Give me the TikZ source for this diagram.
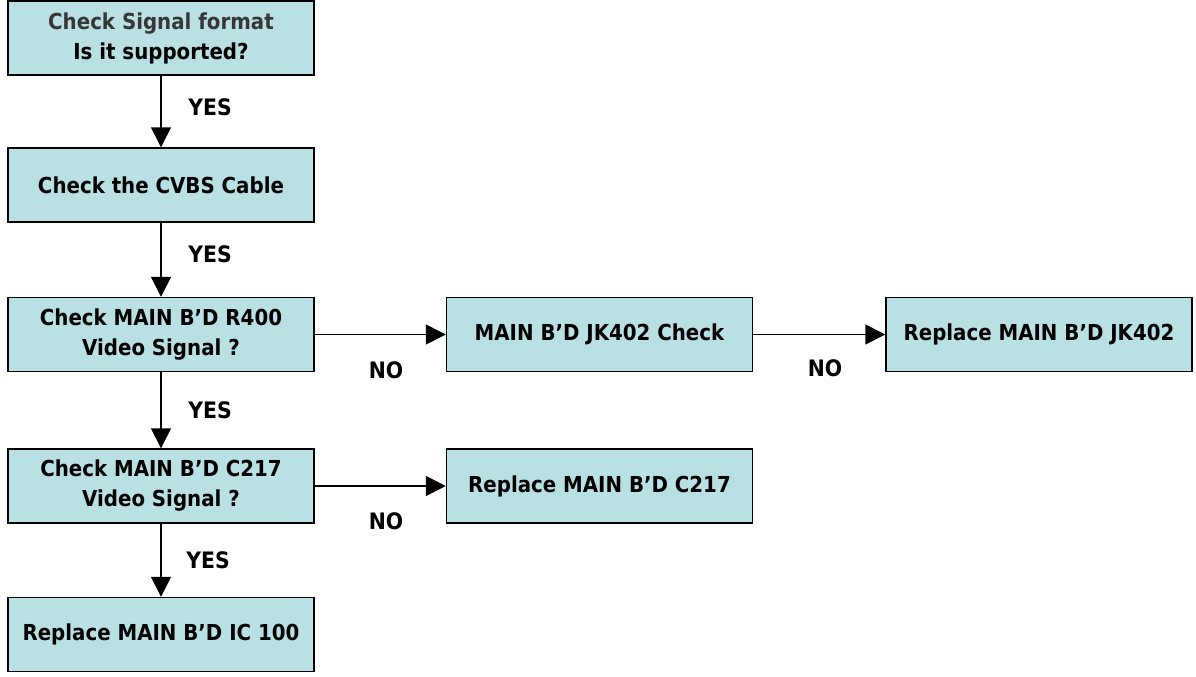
\documentclass[tikz,border=0pt]{standalone}
\usepackage{fontspec}
\setmainfont{DejaVu Sans Condensed}
\usetikzlibrary{arrows.meta}
\definecolor{boxfill}{RGB}{185,224,227}
\definecolor{firstline}{RGB}{55,55,55}
\tikzset{
  stepbox/.style={draw=black,line width=1.1pt,fill=boxfill,minimum width=229.5pt,minimum height=55.5pt,inner sep=0pt,align=center,font=\fontsize{16.5}{22.5}\selectfont\bfseries},
  flow/.style={line width=1.2pt,-{Triangle[length=15pt,width=15pt]}},
  answer/.style={font=\fontsize{17}{20}\selectfont\bfseries}
}
\begin{document}
\begin{tikzpicture}[x=0.75pt,y=0.75pt,yscale=-1,xscale=1]
        \useasboundingbox (0,0) rectangle (1196,676);
        % left column
        \node [stepbox] (format) at (161,38) {\textcolor{firstline}{Check Signal format}\\Is it supported?};
        \node [stepbox] (cable) at (161,185) {Check the CVBS Cable};
        \node [stepbox] (rfour) at (161,334.5) {Check MAIN B'D R400\\Video Signal ?};
        \node [stepbox] (ctwo) at (161,486) {Check MAIN B'D C217\\Video Signal ?};
        \node [stepbox] (icone) at (161,634.5) {Replace MAIN B'D IC 100};
        % right side
        \node [stepbox] (jkcheck) at (599.5,334.5) {MAIN B'D JK402 Check};
        \node [stepbox] (jkrepl) at (1039,334.5) {Replace MAIN B'D JK402};
        \node [stepbox] (crepl) at (599.5,486) {Replace MAIN B'D C217};
        % connectors
        \draw [flow] (format) -- (cable);
        \draw [flow] (cable) -- (rfour);
        \draw [flow] (rfour) -- (ctwo);
        \draw [flow] (ctwo) -- (icone);
        \draw [flow] (rfour) -- (jkcheck);
        \draw [flow] (jkcheck) -- (jkrepl);
        \draw [flow] (ctwo) -- (crepl);
        % labels
        \node [answer] (yesa) at (210,107) {YES};
        \node [answer] (yesb) at (210,254) {YES};
        \node [answer] (yesc) at (210,410) {YES};
        \node [answer] (yesd) at (208,560) {YES};
        \node [answer] (noa) at (386,370) {NO};
        \node [answer] (nob) at (825,368) {NO};
        \node [answer] (noc) at (386,521) {NO};
\end{tikzpicture}
\end{document}
